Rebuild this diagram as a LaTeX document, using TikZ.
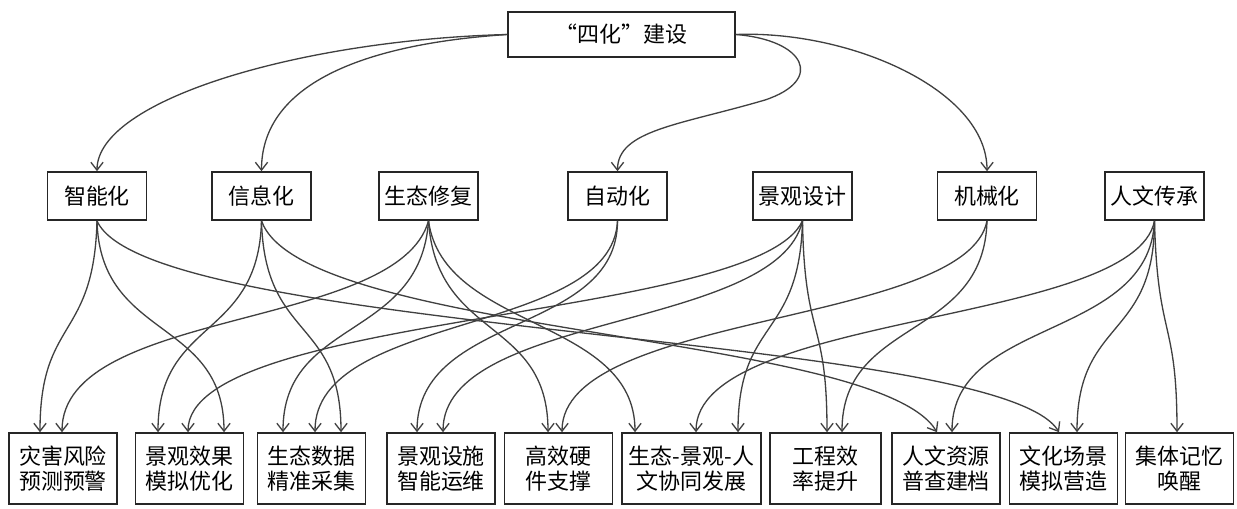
\documentclass[tikz,border=0pt]{standalone}
\usepackage{fontspec}
\usepackage{tikz}
\usetikzlibrary{calc,arrows.meta}
\newfontfamily\cjk{Noto Sans CJK SC}
\tikzset{>={Straight Barb[length=4.5pt,width=7pt]}}

\begin{document}
\begin{tikzpicture}[x=0.02cm,y=-0.02cm,
  box/.style={draw=black!85,line width=0.9pt,align=center,inner sep=0pt,
    font=\cjk\fontsize{12.5pt}{14.5pt}\selectfont},
  mid/.style={box,minimum width=1.98cm,minimum height=0.96cm},
  low/.style={box,minimum width=2.16cm,minimum height=1.42cm},
  link/.style={->,draw=black!75,line width=0.75pt}]

  \useasboundingbox (0,0) rectangle (1237,509);

  % top
  \node[box,minimum width=4.54cm,minimum height=0.9cm] at (621.5,34.5) (jianshe) {“四化”建设};

  % middle row
  \node[mid] at (97,196)    (zhineng)  {智能化};
  \node[mid] at (261.5,196) (xinxi)    {信息化};
  \node[mid] at (428.5,196) (shengtai) {生态修复};
  \node[mid] at (617.5,196) (zidong)   {自动化};
  \node[mid] at (802.5,196) (jingguan) {景观设计};
  \node[mid] at (987,196)   (jixie)    {机械化};
  \node[mid] at (1154.5,196) (renwen)  {人文传承};

  % bottom row
  \node[low] at (63,468.5)    (zaihai)    {灾害风险\\预测预警};
  \node[low] at (189.5,468.5) (xiaoguo)   {景观效果\\模拟优化};
  \node[low] at (311.5,468.5) (shuju)     {生态数据\\精准采集};
  \node[low] at (441,468.5)   (sheshi)    {景观设施\\智能运维};
  \node[low] at (558.5,468.5) (yingjian)  {高效硬\\件支撑};
  \node[low,minimum width=2.78cm] at (691.5,468.5) (xietong) {生态-景观-人\\文协同发展};
  \node[low,minimum width=2.22cm] at (825.5,468.5) (xiaolv)  {工程效\\率提升};
  \node[low] at (946,468.5)    (ziyuan)    {人文资源\\普查建档};
  \node[low] at (1063.5,468.5) (changjing) {文化场景\\模拟营造};
  \node[low] at (1179.5,468.5) (jiyi)      {集体记忆\\唤醒};

  % top -> middle
  \draw[link] (jianshe.west) .. controls (300,40) and (97,100) .. (zhineng.north);
  \draw[link] (jianshe.west) .. controls (350,45) and (261.5,90) .. (xinxi.north);
  \draw[link] (jianshe.east) .. controls (805,40) and (825,80) .. (765,100)
                             .. controls (680,125) and (617.5,130) .. (zidong.north);
  \draw[link] (jianshe.east) .. controls (850,30) and (987,90) .. (jixie.north);

  % middle -> bottom
  \draw[link] (zhineng.south) .. controls +(-3,120) and +(0,-115) .. ($(zaihai.north)+(-23,0)$);
  \draw[link] (zhineng.south) .. controls +(3,120) and +(0,-115) .. ($(xiaoguo.north)+(34.5,0)$);
  \draw[link] (zhineng.south) .. controls +(50,115) and +(-60,-100) .. ($(changjing.north)+(-4.5,0)$);

  \draw[link] (xinxi.south) .. controls +(-3,120) and +(0,-115) .. ($(xiaoguo.north)+(-31.5,0)$);
  \draw[link] (xinxi.south) .. controls +(3,120) and +(0,-115) .. ($(shuju.north)+(29.5,0)$);
  \draw[link] (xinxi.south) .. controls +(40,115) and +(-60,-100) .. ($(ziyuan.north)+(-9,0)$);

  \draw[link] (shengtai.south) .. controls +(-30,110) and +(0,-125) .. ($(zaihai.north)+(-1,0)$);
  \draw[link] (shengtai.south) .. controls +(-8,120) and +(0,-115) .. ($(shuju.north)+(-28.5,0)$);
  \draw[link] (shengtai.south) .. controls +(8,120) and +(0,-115) .. ($(yingjian.north)+(-10.5,0)$);
  \draw[link] (shengtai.south) .. controls +(15,110) and +(0,-115) .. ($(xietong.north)+(-56.5,0)$);

  \draw[link] (zidong.south) .. controls +(0,115) and +(0,-120) .. ($(sheshi.north)+(-24,0)$);
  \draw[link] (zidong.south) .. controls +(-5,115) and +(0,-120) .. ($(shuju.north)+(3.5,0)$);

  \draw[link] (jingguan.south) .. controls +(-45,100) and +(0,-120) .. ($(xiaoguo.north)+(-1.5,0)$);
  \draw[link] (jingguan.south) .. controls +(-25,110) and +(0,-120) .. ($(sheshi.north)+(2,0)$);
  \draw[link] (jingguan.south) .. controls +(-3,120) and +(0,-115) .. ($(xietong.north)+(46.5,0)$);
  \draw[link] (jingguan.south) .. controls +(2,120) and +(0,-115) .. ($(xiaolv.north)+(1.5,0)$);

  \draw[link] (jixie.south) .. controls +(-20,105) and +(0,-120) .. ($(yingjian.north)+(3.5,0)$);
  \draw[link] (jixie.south) .. controls +(-3,120) and +(0,-115) .. ($(xiaolv.north)+(16.5,0)$);

  \draw[link] (renwen.south) .. controls +(-20,105) and +(0,-120) .. ($(xietong.north)+(4.5,0)$);
  \draw[link] (renwen.south) .. controls +(-5,120) and +(0,-115) .. ($(ziyuan.north)+(6,0)$);
  \draw[link] (renwen.south) .. controls +(0,120) and +(0,-115) .. ($(changjing.north)+(13.5,0)$);
  \draw[link] (renwen.south) .. controls +(3,120) and +(0,-115) .. ($(jiyi.north)+(-2.5,0)$);

\end{tikzpicture}
\end{document}
